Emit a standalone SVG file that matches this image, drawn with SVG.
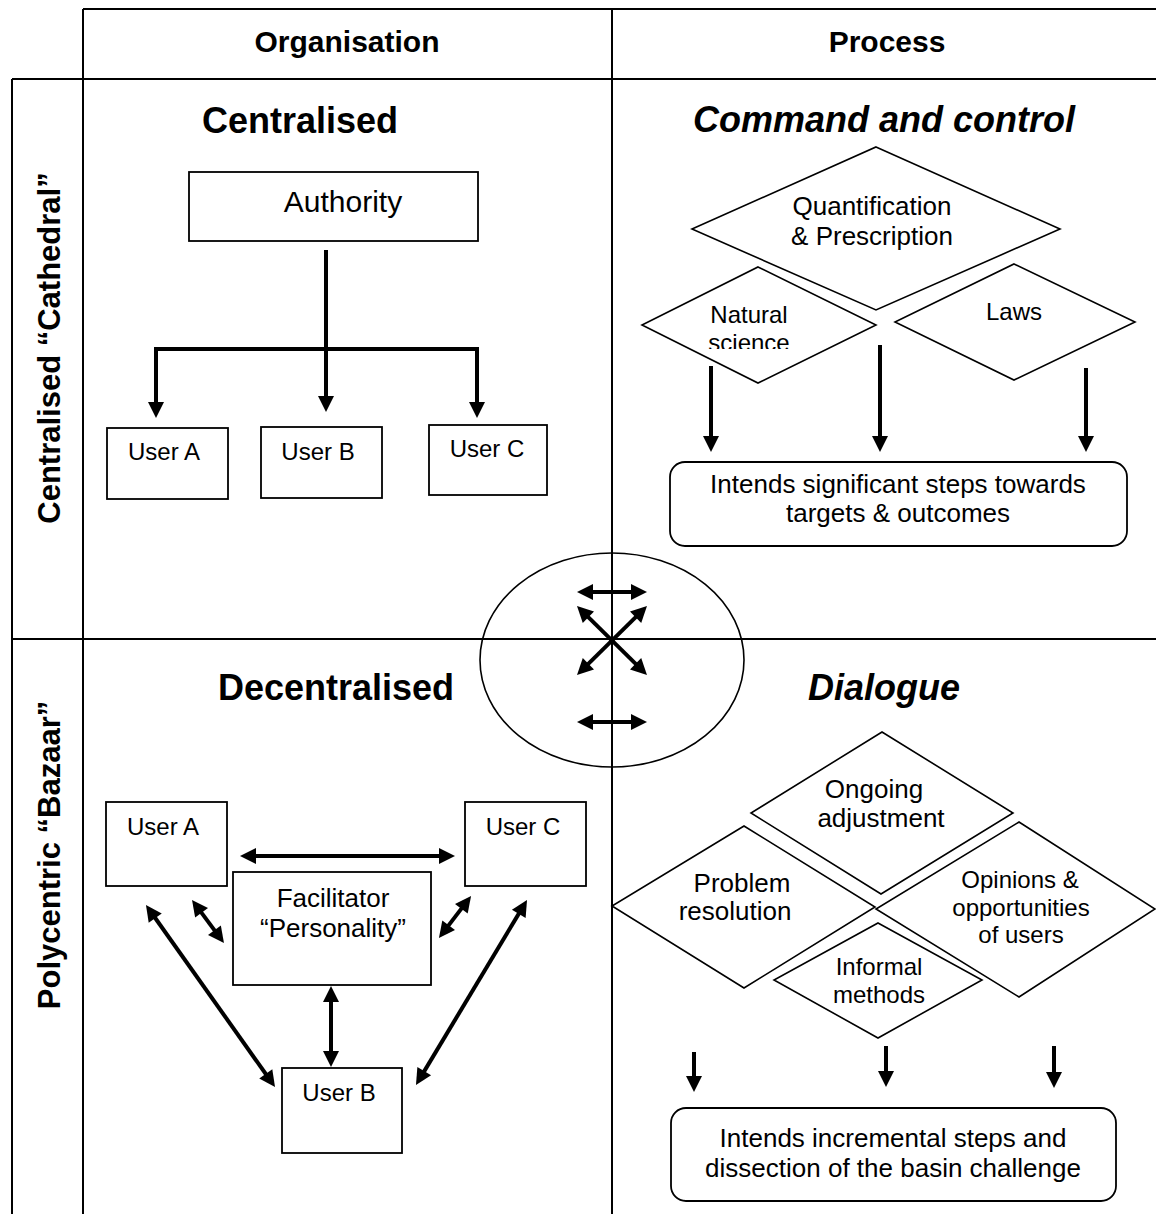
<svg xmlns="http://www.w3.org/2000/svg" width="1156" height="1214" viewBox="0 0 1156 1214">
<style>
text{font-family:"Liberation Sans",Arial,sans-serif;fill:#000}
.hd{font-size:30px;font-weight:bold;text-anchor:middle}
.tt{font-size:36px;font-weight:bold;text-anchor:middle}
.it{font-style:italic}
.side{font-size:31px;font-weight:bold;text-anchor:middle}
.l26{font-size:26px;text-anchor:middle}
.l24{font-size:24px;text-anchor:middle}
.l30{font-size:30px;text-anchor:middle}
.grid{stroke:#000;stroke-width:2;fill:none}
.box{fill:#fff;stroke:#000;stroke-width:1.8}
.dia{fill:#fff;stroke:#000;stroke-width:1.6}
.arr{stroke:#000;stroke-width:4;fill:none;marker-end:url(#ah)}
.dbl{stroke:#000;stroke-width:4;fill:none;marker-end:url(#ah);marker-start:url(#ah)}
</style>
<defs>
<marker id="ah" markerUnits="userSpaceOnUse" markerWidth="16" markerHeight="16" refX="8" refY="8" orient="auto-start-reverse" overflow="visible">
<path d="M0,0 L16,8 L0,16 z" fill="#000"/>
</marker>
<clipPath id="sciClip"><rect x="680" y="300" width="140" height="49"/></clipPath>
</defs>
<rect width="1156" height="1214" fill="#fff"/>

<g id="table">
<path class="grid" d="M83,9 H1156 M12,79 H1156 M12,79 V1214 M83,9 V1214 M612,9 V1214 M12,639 H1156"/>
<text class="hd" x="347" y="52">Organisation</text>
<text class="hd" x="887" y="52">Process</text>
<text class="side" transform="translate(60,348) rotate(-90)">Centralised “Cathedral”</text>
<text class="side" transform="translate(60,855) rotate(-90)">Polycentric “Bazaar”</text>
<text class="tt" x="300" y="133">Centralised</text>
<text class="tt it" x="884" y="132">Command and control</text>
<text class="tt" x="336" y="700">Decentralised</text>
<text class="tt it" x="884" y="700">Dialogue</text>
</g>

<g id="centre-ellipse">
<ellipse cx="612" cy="660" rx="132" ry="107" fill="none" stroke="#000" stroke-width="1.6"/>
</g>

<g id="authority"><rect class="box" x="189" y="172" width="289" height="69"/><text class="l30" x="343" y="212">Authority</text></g>
<g id="c-userA"><rect class="box" x="107" y="428" width="121" height="71"/><text class="l24" x="164" y="460">User A</text></g>
<g id="c-userB"><rect class="box" x="261" y="427" width="121" height="71"/><text class="l24" x="318" y="460">User B</text></g>
<g id="c-userC"><rect class="box" x="429" y="425" width="118" height="70"/><text class="l24" x="487" y="457">User C</text></g>

<g id="quantification"><polygon class="dia" points="876,147 1060,229 876,310 692,229"/><text class="l26" x="872" y="215">Quantification</text><text class="l26" x="872" y="245">&amp; Prescription</text></g>
<g id="natural-science"><polygon class="dia" points="758,267 876,325 758,383 642,325"/><text class="l24" x="749" y="323">Natural</text><text class="l24" x="749" y="351" clip-path="url(#sciClip)">science</text></g>
<g id="laws"><polygon class="dia" points="1014,264 1135,322 1014,380 895,322"/><text class="l24" x="1014" y="320">Laws</text></g>
<g id="significant-steps"><rect class="box" x="670" y="462" width="457" height="84" rx="15"/><text class="l26" x="898" y="493">Intends significant steps towards</text><text class="l26" x="898" y="522">targets &amp; outcomes</text></g>

<g id="d-userA"><rect class="box" x="106" y="802" width="121" height="84"/><text class="l24" x="163" y="835">User A</text></g>
<g id="d-userC"><rect class="box" x="465" y="802" width="121" height="84"/><text class="l24" x="523" y="835">User C</text></g>
<g id="facilitator"><rect class="box" x="233" y="872" width="198" height="113"/><text class="l26" x="333" y="907">Facilitator</text><text class="l26" x="333" y="937">“Personality”</text></g>
<g id="d-userB"><rect class="box" x="282" y="1068" width="120" height="85"/><text class="l24" x="339" y="1101">User B</text></g>

<g id="ongoing"><polygon class="dia" points="882,732 1013,813 881,894 751,813"/><text class="l26" x="874" y="798">Ongoing</text><text class="l26" x="881" y="827">adjustment</text></g>
<g id="problem"><polygon class="dia" points="744,826 875,907 744,988 612,906"/><text class="l26" x="742" y="892">Problem</text><text class="l26" x="735" y="920">resolution</text></g>
<g id="opinions"><polygon class="dia" points="1019,822 1155,909 1019,997 876,909"/><text class="l24" x="1020" y="888">Opinions &amp;</text><text class="l24" x="1021" y="916">opportunities</text><text class="l24" x="1021" y="943">of users</text></g>
<g id="informal"><polygon class="dia" points="878,923 982,980 878,1038 774,980"/><text class="l24" x="879" y="975">Informal</text><text class="l24" x="879" y="1003">methods</text></g>
<g id="incremental-steps"><rect class="box" x="671" y="1108" width="445" height="93" rx="15"/><text class="l26" x="893" y="1147">Intends incremental steps and</text><text class="l26" x="893" y="1177">dissection of the basin challenge</text></g>

<g id="connectors">
<line class="arr" x1="326" y1="250" x2="326" y2="404"/>
<path class="dbl" stroke-linejoin="miter" d="M156,410 V349 H477 V410"/>
<line class="arr" x1="711" y1="366" x2="711" y2="444"/>
<line class="arr" x1="880" y1="345" x2="880" y2="444"/>
<line class="arr" x1="1086" y1="368" x2="1086" y2="444"/>
<line class="dbl" x1="585" y1="592" x2="639" y2="592"/>
<line class="dbl" x1="585" y1="722" x2="639" y2="722"/>
<line class="dbl" x1="582.7" y1="611.6" x2="641.3" y2="669.4"/>
<line class="dbl" x1="641.3" y1="611.6" x2="582.7" y2="669.4"/>
<line class="dbl" x1="248" y1="856" x2="447" y2="856"/>
<line class="dbl" x1="196.8" y1="906.4" x2="219.2" y2="936.6"/>
<line class="dbl" x1="466.2" y1="902.4" x2="443.8" y2="931.6"/>
<line class="dbl" x1="150.6" y1="911.5" x2="270.4" y2="1080.5"/>
<line class="dbl" x1="522.9" y1="906.9" x2="420.1" y2="1078.1"/>
<line class="dbl" x1="331" y1="994" x2="331" y2="1059"/>
<line class="arr" x1="694" y1="1052" x2="694" y2="1084"/>
<line class="arr" x1="886" y1="1046" x2="886" y2="1079"/>
<line class="arr" x1="1054" y1="1046" x2="1054" y2="1080"/>
</g>
</svg>
